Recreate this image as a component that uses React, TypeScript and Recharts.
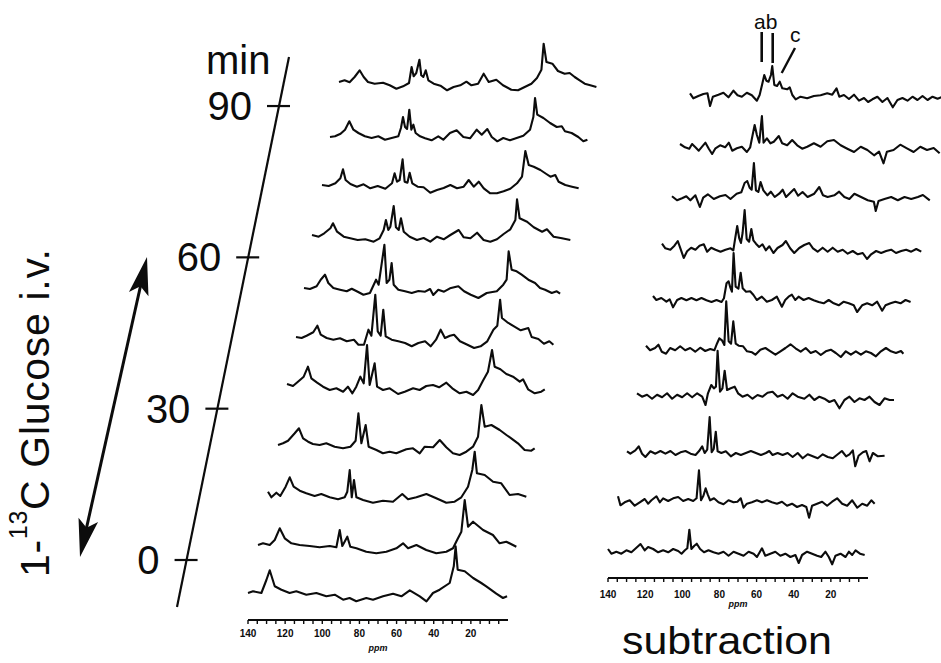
import React from "react";
import { LineChart, Line, XAxis, YAxis } from "recharts";

type Pt = [number, number];

const FONT = '"Liberation Sans", Arial, Helvetica, sans-serif';
const INK = "#0c0c0c";

// 13C spectra, [ppm, intensity]; bottom trace first
const L0: Pt[] = [[140,0],[137.3,1.7],[132.8,0],[130.1,13],[128.3,22.7],[125.6,6.7],[122,3.3],[117.6,0],[114,1.7],[108.6,-1.7],[103.2,0],[97.8,-3.3],[93.3,-1.7],[88.8,-6.7],[85.3,-5],[81.7,-8.3],[76.3,-5],[72.7,-6.7],[67.3,-3.3],[61.9,-0.7],[57.4,-3.3],[52.9,2.7],[47.5,-3.3],[43.9,-8.3],[40.4,0],[36.8,3.3],[31.4,10],[29.2,26.7],[28.2,46.7],[27.1,23.3],[23.3,21.7],[18.8,15],[14.4,10],[11.7,6.7],[6.3,-0.7],[2.7,-5],[0.5,-3.3]];
const L1: Pt[] = [[140,0],[137.3,1.7],[133.7,0],[131,5],[128.3,16.7],[125.6,6.7],[122,1.7],[117.6,0],[112.2,-1],[106.8,-2.3],[101.4,-1],[97.8,-2.3],[96,15],[94.6,-1],[91.9,8.3],[90.3,-1.7],[87,-3.3],[81.7,-6.7],[76.3,-8.3],[70.9,-6.7],[65.5,-3.3],[61.9,1.7],[59.2,-3.3],[54.7,0],[49.4,-5],[44,-8.3],[38.6,-6.7],[35,-3.3],[32.8,5],[30.5,13.3],[28.7,45],[26.9,18.3],[24.2,23.3],[18.8,15],[13.5,10],[9.9,1.7],[6.3,3.3],[0.9,-1.7]];
const L2: Pt[] = [[140,4.3],[138.2,-1.3],[135.5,3.3],[133.4,0],[130.5,9.3],[128.3,18.7],[126.2,9.3],[122.9,5.3],[119.4,2.7],[114.9,0],[111.3,2],[106.8,-1.3],[102.3,-3.3],[98.7,-1.3],[97.3,4.3],[96,26],[94.9,-1.3],[93.7,16],[92.4,-1.3],[88.8,-4],[83.5,-6.7],[78.1,-4.7],[72.7,-5.7],[67.7,2],[64.6,-3.3],[60.1,-1.3],[54.7,2],[49.4,-2.3],[44,-6.7],[39.5,-5.7],[35.9,-1.3],[32.3,9.3],[30,26],[28.7,44.3],[27.5,22.7],[23.3,21],[18.8,14.3],[14.4,12.7],[9.9,1],[5.4,2],[0.9,-0.7]];
const L3: Pt[] = [[140,0],[137.3,1.7],[134.6,4.3],[131,11.7],[128.7,16.7],[126.5,6.7],[123.8,3.3],[121.2,1],[117.6,0],[114,1.7],[109.5,-1.7],[105,-3.3],[101,-1.7],[98.2,4.3],[96.7,31.7],[95.1,1.7],[92.8,20],[91.2,-1.7],[87,-5],[83.5,-8.3],[79.9,-6.7],[76.3,-8.3],[70.9,-4.3],[67.3,-3.3],[63.7,-8.3],[61,-1.7],[56.5,-2.3],[52.9,5],[49.4,-2.3],[45.8,-8.3],[42.2,-10],[38.6,-6.7],[35,-1.7],[32.3,8.3],[30.5,40],[28.7,18.3],[25.1,20],[20.6,15],[17,10],[14.4,6.7],[10.8,1.7],[7.2,-5],[3.6,-5.7],[1.8,-3.3]];
const L4: Pt[] = [[140,1],[136.8,-1],[134.1,3.3],[131,8.3],[128.7,18.3],[126.9,6.7],[123.8,2.3],[120.6,-1.7],[117,-5],[113.4,-3.3],[109.8,-6.7],[107.2,-1.7],[104.8,-8.3],[102.7,-1.7],[100.5,8.3],[98.7,1.7],[96.9,40],[95.5,0],[92.8,21.7],[91.5,-1.7],[88.3,-5],[84.7,-3.3],[80.2,-9],[76.6,-6.7],[72.1,-3.3],[68.6,-5],[65,-1],[61.4,0],[58.1,-2.3],[54.2,2.3],[51,-3.3],[47,-8.3],[43.4,-6.7],[39.8,-10],[37.1,-5],[34.5,4.3],[31.8,13.3],[29.6,35],[28.2,18.3],[25.1,15.7],[21.9,11],[18.3,8.3],[14.7,3.3],[12.9,5.7],[10.2,-4.3],[6.6,-8.3],[3.1,-6.7],[1.2,-4.3]];
const L5: Pt[] = [[140,0],[137,-1],[134.3,1.3],[130.7,4.7],[128.5,11.3],[126.7,2.3],[123.5,-1],[119.9,-2.7],[116.3,-1.3],[112.7,-4.3],[108.8,-2.7],[106.4,-7.7],[103.4,-7.7],[101,7.3],[99.4,1.3],[97.3,42.3],[96,5.7],[94.4,1.3],[93,27.3],[91.7,0.7],[88.5,-2.7],[84.9,-4.3],[81.3,-6],[77.7,-9.3],[74.1,-6],[70.5,-4.3],[67.5,-9.3],[64.6,-2.7],[62.1,7.3],[59.8,-1],[57.1,1.3],[54.9,2.3],[51.7,-4.3],[47.7,-7.7],[44.1,-11],[40.6,-9.3],[37,-4.3],[33.7,7.3],[31.6,11.3],[30.1,37.3],[29.1,19],[26.2,14.7],[22.6,10.7],[19,6.7],[14.9,9],[13.1,0],[9.5,-2],[6.5,-6.7],[3.6,-4.3],[1.4,-7.7]];
const L6: Pt[] = [[140,1],[136.8,0],[133.2,2.7],[131,9.3],[128.7,14.3],[126.9,6],[124.2,1],[120.6,-0.7],[117,-2.3],[114.3,0.3],[111.6,-2.3],[108,-5.7],[104.5,-4],[101.2,9.3],[99.8,4.3],[96.7,44.3],[95.5,6],[94,9.3],[92.8,26],[91.7,4.3],[89.2,-0.7],[85.6,-2.3],[82,-4],[78.4,-2],[74.8,-2.7],[72.1,0],[70.4,-6],[67.7,-0.7],[64.6,-2.7],[61.4,0.7],[56.9,2.7],[53.8,-2.3],[50.2,-5.7],[46.1,-9],[41.6,-4],[36.2,-2.3],[32.7,4.3],[30.9,9.3],[29.8,37.7],[28.2,19.3],[25.5,17.7],[22.8,14.3],[19.2,9.3],[15.6,6],[12.9,1],[10.2,-0.7],[6.6,-4],[3.9,-2.3],[2.1,-4.7]];
const L7: Pt[] = [[140,0],[136.4,-1.7],[133.4,1.7],[130.1,6.7],[128.7,11.7],[126.5,3.3],[122.9,-1.7],[119.4,-3.3],[115.4,-5],[111.3,-4.3],[106.8,-6.7],[103.6,-3.3],[101.4,5],[100.2,15],[98.9,5],[97.8,8.3],[96,29],[94.8,7.7],[93.3,5],[92.1,16.7],[90.6,3.3],[87.4,-1.7],[83.5,-5],[79.9,-3],[76.3,-6.7],[72.7,-1.7],[69.1,-4.3],[65.5,0],[61,5],[58.3,-2.3],[54.7,-3.3],[51.1,2.3],[47.6,-5],[44,-6.7],[40.4,-4.3],[36.8,1],[33.2,5.7],[30.5,15],[29.6,35.7],[28.2,16.7],[24.2,13.3],[20.6,7.7],[16.1,3.3],[13.5,5.7],[9.9,-1.7],[5.4,-3.3],[0.9,-5]];
const L8: Pt[] = [[140,0],[136.4,-1],[132.8,1.7],[130.1,6.7],[128.7,15.7],[127.3,5],[124.7,1],[121.2,-1.7],[117.6,0.7],[114,-3.3],[110,-1],[105.9,-3.7],[102.3,1.7],[100.9,11.7],[99.6,3.3],[98.2,5],[96.6,25.7],[95.5,3.3],[94,2.3],[92.8,12.3],[91.4,1.7],[88.5,-1.7],[85.3,-2.3],[81.7,-7.7],[78.1,-5],[74.5,-3],[70.9,0],[67.3,-3.3],[63.7,-1.7],[61,5],[58.3,-1.7],[55.6,3.3],[52.9,-3.3],[49.4,-8.3],[45.8,-8.3],[42.2,-6.3],[38.6,-3.7],[35,1.7],[32.3,8.3],[30.5,34],[28.7,20],[26,18.3],[22.4,15],[19.2,11],[17,8.3],[14.4,10],[12.6,3.3],[9,0],[5.4,-1.7],[1.8,-3.3]];
const L9: Pt[] = [[140,0],[137.3,0.7],[134.3,3.3],[131.9,7.3],[129.6,15.7],[127.4,7.3],[124.7,4],[121.2,0.7],[117.6,-1],[114,0.7],[110.4,-2.7],[106.8,-1],[103.2,0.7],[101.8,9],[100.7,20],[99.6,10],[98.5,8],[97.3,27.3],[96.2,7.3],[95.1,12.3],[93.9,4],[91.5,0.7],[88.8,-1.3],[85.3,-3.3],[81.7,0.7],[79,-2.7],[75.4,4],[71.8,6.7],[68.2,0],[64.6,-1.3],[61,7.3],[58.3,2.3],[55.3,8],[52.9,0],[49.9,-4.3],[46.7,-1],[43.1,-3.3],[39.5,-1],[35.9,1.3],[32.3,7.3],[30.5,20],[29.6,39],[28.4,22.3],[25.1,19],[21.5,14],[17.9,10],[15.2,10.7],[13.5,5.7],[9.9,4],[6.3,0],[3.6,-4.3],[1.4,-2.7]];
const L10: Pt[] = [[140,0],[137,1.7],[134.3,-0.3],[131.6,5],[128.9,11.7],[126.7,5],[124.4,0],[120.8,-1.7],[116.3,-0.7],[112.7,-3.3],[109.1,-6.7],[105.5,-4.3],[102.3,-1],[100.9,15],[99.8,5.7],[98.4,9],[96.7,22.3],[95.7,6.7],[94.6,5],[93.3,11.7],[91.9,1.7],[89,-1.7],[85.4,-3.7],[81.8,-8.3],[78.3,-5],[74.7,-3.3],[71.4,0.3],[68.7,-3.3],[65.1,-1.7],[62.1,8.3],[59.4,0],[55.3,2.3],[51.7,-3.3],[47.2,-7.7],[43.6,-8.3],[40,-5],[36.4,-1.7],[33.4,4],[31,12.3],[29.8,38.3],[28.3,20],[25.1,18.3],[22.1,11],[18.5,8.3],[15.8,9],[13.1,5],[10.4,1.7],[7.7,-1.7],[4.7,-3.3],[1.4,-5]];

// subtraction spectra, bottom first
const S0: Pt[] = [[140,3],[138.2,-1.7],[135.5,0.3],[132.8,-1.7],[130.1,1.7],[127.4,-0.3],[125,3.7],[122.5,8],[120.2,1.7],[118.4,5],[115.7,3],[113,-0.3],[110.3,1.7],[107.6,-0.3],[104.9,3],[102.2,1],[100.4,-1.7],[98.6,1.7],[97.3,3.7],[96.2,22.3],[95.1,3],[93.5,6.3],[92.2,8.3],[90.4,3],[88.3,-0.3],[85.9,1.7],[83.2,-0.3],[80.5,-1.7],[77.8,0.3],[75.1,-3.7],[72.4,0.3],[69.7,-1.7],[67,-3.7],[64.3,0.3],[61.6,-1.7],[59.8,-5],[57.1,3.7],[55.3,-3.7],[52.6,-1.7],[49.9,0.3],[47.2,-3.7],[44.5,-1.7],[41.8,-5],[39.1,-3],[37.3,-11],[35.5,-3],[32.8,0.3],[30.1,-1.7],[27.4,-3.7],[25.2,-5],[22.9,0.3],[21.1,-5],[19.3,-12.3],[17.5,-3.7],[14.8,-1.7],[12.1,-5],[10.3,0.3],[8.5,-3],[6.7,1.7],[4.3,-1.7],[1.8,-3]];
const S1: Pt[] = [[140,5.7],[138.7,-3.3],[136.4,-0.3],[133.7,1.7],[131,-3.7],[128.3,-0.3],[125.6,3],[123.8,-1.7],[122,1.7],[119.3,5.7],[117.5,-0.3],[115.7,3.7],[113,1],[110.3,3.7],[107.6,5],[104.9,1],[102.2,3],[99.5,1],[97.7,3.7],[96.4,31.7],[95.3,1.7],[94,6.3],[92.8,13.7],[91.7,7.7],[90.4,1.7],[88.3,3.7],[85.9,-0.3],[83.2,-2.3],[80.5,1.7],[77.8,-0.3],[75.7,0.3],[73.9,3.7],[72.4,-5.7],[70.6,-1.7],[67.9,-0.3],[65.2,1.7],[62.5,-0.3],[59.8,1.7],[57.1,-0.3],[54.4,-1.7],[51.7,0.3],[49,-3.7],[46.3,-1.7],[43.6,-5],[40.9,-3],[38.6,-5],[37.1,-15.7],[35.5,-3.7],[32.8,-1.7],[30.1,0.3],[27.4,-3.7],[24.7,0.3],[22,3.7],[19.3,-1.7],[16.6,-3.7],[13.9,1.7],[11.2,-5.7],[8.5,-1.7],[5.8,-3.7],[3.6,1.7],[1.8,-1.7]];
const S2: Pt[] = [[140,1.7],[138.2,-0.7],[135.5,2.7],[133.7,6.7],[131.9,-0.7],[130.1,-4],[127.4,1.7],[124.7,-0.7],[122,2],[119.3,-0.7],[116.6,2],[113.9,-2],[111.2,0.7],[108.5,2],[105.8,-0.7],[103.1,-2],[101.3,1.7],[99.5,6.7],[98.2,0],[96.8,3.3],[95.5,36],[94.4,0.7],[93.3,4],[92.2,21.3],[91.2,1.7],[89.2,0],[86.8,1.7],[84.1,-3.3],[81.4,0],[78.7,-2],[76,0],[73.3,2],[70.6,0],[67.9,-2],[65.2,0],[63.4,2],[61.6,-2],[58.9,0],[56.2,-2],[53.5,0],[50.8,-4],[48.1,0],[45.4,-5.3],[42.7,-1.3],[40,-3.3],[37.3,-5.3],[34.6,-1.3],[31.9,-4],[29.2,-5.3],[26.5,-1.3],[24.3,2],[22,-3.3],[20.2,-1.3],[18.4,2.7],[17.1,-13.3],[15.3,-2.7],[13,0.7],[11.2,2],[9.4,-8.3],[7.6,0],[4.9,-3.3],[1.3,-2.7]];
const S3: Pt[] = [[140,2.7],[137.3,-0.7],[134.6,1.3],[131.9,-2.7],[129.2,1.3],[126.5,-1.3],[123.8,2.7],[121.1,-2.7],[118.4,1.3],[115.7,-1.3],[113,2.7],[110.3,-1.3],[107.6,2.7],[104.9,-0.7],[103.1,-9],[101.8,2.7],[100,11],[98.6,7.7],[97.5,9.3],[96.6,45.3],[95.3,4.3],[94,7.7],[92.8,25.3],[91.5,6],[89.5,7.7],[87.4,9.3],[85.6,2.7],[83.2,-0.7],[80.5,1.3],[77.8,-2.7],[75.1,1],[72.4,-0.7],[69.7,3.3],[67,4.3],[64.3,-0.7],[61.6,1.3],[58.9,-2.7],[56.2,2.7],[53.5,-0.7],[49.9,-2.7],[47.2,1.3],[44.5,-4],[41.8,-0.7],[39.1,-2.7],[36.4,-6],[33.7,-4],[31,-12.3],[28.3,-4],[25.6,-0.7],[22.9,-6],[20.2,-2.3],[17.5,-4],[14.8,-0.7],[12.1,-6],[9.4,-9],[6.7,-2.3],[4,-4],[1.6,-4]];
const S4: Pt[] = [[140,3.3],[137.8,-1.3],[135.1,1],[133.3,4.3],[131.5,-2.7],[129.2,-4.7],[127,1],[124.3,-1.3],[121.6,2.7],[118.9,-1.3],[116.2,1],[113.5,-2.7],[110.8,1.3],[108.1,-2],[105.4,0],[103.2,-1.3],[101.8,5.3],[100.5,10.7],[99.1,8.7],[97.8,4],[96.8,47.7],[95.5,7.7],[94.2,5.3],[93,27.7],[91.7,5.3],[90.1,3.3],[87.7,2.7],[85.6,-2.3],[82.9,-3.3],[81.1,-5.7],[78.4,-0.7],[75.7,1],[73,-2.3],[70.3,-5.7],[67.6,-2.3],[64.9,1],[62.2,4.7],[59.5,0.7],[56.7,-2.7],[54,1],[51.3,-4],[48.6,-2],[45.9,-6],[43.2,-2.3],[40.5,-0.7],[37.8,-4],[35.1,-8],[32.4,-2.3],[29.7,-5.7],[27,-2.3],[24.3,-5.7],[21.6,-2.3],[18.9,-4],[16.2,-7.3],[13.5,-2.3],[10.8,1],[8.1,-2.3],[5.4,-4],[2.7,-2],[1.4,-4.7]];
const S5: Pt[] = [[140,4],[138.2,0],[135.5,2],[132.8,-1.7],[131,0.7],[129.2,-7.3],[127,0],[124.7,2],[122,-0.3],[119.3,2],[116.6,-0.3],[113.9,2],[111.2,-0.3],[108.5,-2],[105.8,0],[103.1,-2],[101.8,1.7],[100.4,16.7],[99.3,18.7],[98.4,12.7],[97.5,8.3],[96.6,47],[95.5,13.3],[94,11.3],[92.8,27.3],[91.7,11.7],[89.9,8.3],[87.7,8.7],[85.9,5],[84.1,0],[81.4,3.3],[78.7,-1.7],[76,0],[73.3,3.3],[70.6,-6.7],[68.8,0],[67,3.3],[65.2,5.3],[63.4,0],[61.6,3.3],[58.9,0],[56.2,2],[53.5,-0.3],[50.8,-2],[48.1,-3.3],[45.4,0],[42.7,-3.3],[40,-5.3],[37.3,-1.7],[34.6,-3.3],[31.9,-5.3],[30.1,-12],[27.4,-5.3],[24.7,-3.3],[22,-5.3],[19.3,-1.7],[16.6,-10.7],[14.8,-5.3],[12.1,-3.3],[9.5,-1.7],[6.7,-3.3],[4,0],[1.3,-2]];
const S6: Pt[] = [[140,4.3],[138.2,-0.3],[135.5,-1.7],[133.3,2.3],[131.5,7],[130.1,-0.3],[128.3,-10],[126.5,-3.3],[124.3,0.3],[122,-1.7],[119.8,2.3],[117.5,3.7],[115.7,-3.7],[113.5,0.3],[111.2,-1.7],[108.5,-3.7],[105.8,-1.7],[103.1,-0.3],[101.6,-2.3],[100.7,8.3],[99.5,22],[98.4,9.7],[97.5,5],[96.6,15],[95.5,38],[94.4,9],[93.1,6.3],[91.9,19],[90.8,7.7],[89.4,4.3],[87.7,1],[85.9,3.7],[84.1,-2.3],[82.2,1.7],[80,-5],[77.8,0],[75.1,3],[73.3,7],[71,-0.3],[68.8,-5],[66.1,0],[63.4,3],[60.7,5],[58.7,-0.3],[56.2,-3.7],[53.5,0.3],[50.8,-3.7],[48.1,0.3],[45.4,-3.7],[42.7,-1.7],[40,-5.7],[37.3,-3],[34.6,-6.3],[31.9,-5],[29.6,-11],[27.4,-6.3],[24.7,-3],[22,-5],[19.3,-3],[16.6,-1.7],[14,-5],[11.2,-3],[8.5,-1.7],[5.8,-3.7],[3.1,-1],[0.4,-3.7]];
const S7: Pt[] = [[140,0.7],[137.3,-3.3],[134.6,-1.3],[132.3,0.7],[130.1,-3.3],[127.4,1.7],[125,-10],[123.2,-0.7],[120.7,2.7],[117.5,-2],[114.2,0.7],[111.2,2],[108.5,-2],[105.2,3.3],[102.7,4.7],[100.9,14],[99.5,16],[98.2,9.3],[97.1,7.3],[95.9,34],[94.8,6.7],[93.5,5],[92.3,15],[90.8,6.7],[88.6,1.7],[86.8,5.3],[84.7,0],[82.3,3.3],[80.4,7.3],[78.6,0],[76,4.7],[74.2,8],[72.1,1.3],[69.7,5],[67,0],[63.4,3.3],[60.7,10],[58.7,1.7],[56.2,0],[52.6,1.7],[50,5.3],[47.2,0],[44.5,-2],[41.8,3.3],[38.2,0],[34.6,-3.3],[31.3,-4.7],[30.3,-14],[28.8,-4],[25.6,-2],[22,0],[18.4,-3.3],[14.8,0],[11.2,-2],[7.6,0],[4.9,2],[1.2,-3.3]];
const S8: Pt[] = [[140,1],[137.3,-2.3],[135,-3.7],[133.5,1],[131.7,-2.3],[129.9,-5.7],[128.1,-1.7],[126.3,2.3],[124.5,-3.7],[122.7,-9],[120.9,-3.3],[118.4,-0.3],[115.7,-2.3],[113.7,2.3],[111.9,-5.7],[109.4,-3.3],[106.7,-1.7],[104,-7],[102.2,-2.3],[100.9,10],[99.8,20],[98.6,10],[97.3,2.3],[95.9,29],[95,2.3],[93.2,6.7],[91.3,1.7],[89.5,3.3],[86.8,9],[85,1.7],[82.3,-0.3],[79.6,5],[76.9,-0.3],[74.2,-3.7],[71.5,-1.7],[67.9,1.7],[64.3,-1.7],[60.7,3.7],[57.1,5],[53.5,-0.3],[49.9,-3.7],[46.3,-7],[42.7,-1.7],[39.1,-5],[35.5,-10.3],[32.8,-6.7],[30.4,-18.3],[28.6,-6.7],[25,-5],[21.4,0.3],[17.8,-3.3],[14.2,-7],[10.6,-1.7],[7,-5],[3.4,-3],[0.2,-8.3]];
const S9: Pt[] = [[140,1.7],[138.2,-3.3],[135.5,-1],[132.8,1],[130.6,1.7],[129.2,-11],[127.7,-1.7],[124.7,0.3],[122,2.3],[119.3,-2.3],[116.6,4.3],[114.4,-0.3],[112.1,-1.7],[109.4,2.3],[106.7,-0.3],[104,-5.7],[102.5,0],[101.1,11],[100,20],[98.9,14.3],[97.7,13.3],[96.4,20],[95.7,29],[94.6,10],[93.1,9],[91.7,13.3],[90.3,6.7],[87.7,5.7],[86.3,7.7],[84.9,0],[83.1,-4.3],[80.5,-1.7],[76.9,-3.3],[73.3,-1],[69.7,-0.3],[66.1,1.7],[63.4,0.3],[61.1,6.7],[59.6,-1.7],[57.1,0],[54.4,-4],[51.7,0.3],[49,-5.7],[46.3,-3],[44.1,-7],[41.8,-4.3],[39.1,-1.7],[36.4,-7],[33.7,-3],[30.8,-12.3],[28.3,-5],[25.6,-3],[22.9,-5.7],[20.2,-1.7],[17.5,-5],[14.8,-1],[12.1,-5],[9.4,-1.7],[6.7,-3.7],[4,-1.7],[1.3,-3.7]];

const leftStack = [L0, L1, L2, L3, L4, L5, L6, L7, L8, L9, L10];
const subStack = [S0, S1, S2, S3, S4, S5, S6, S7, S8, S9];

const ppmTicks = [140, 135, 130, 125, 120, 115, 110, 105, 100, 95, 90, 85, 80, 75, 70, 65, 60, 55, 50, 45, 40, 35, 30, 25, 20, 15, 10, 5];
const timeTicks = [0, 30, 60, 90];

// layout: where each trace's 140 ppm end and zero line sit on the page
const leftOrigins: Pt[] = [[248.3, 593.3], [258.3, 545], [268.3, 496], [278.3, 445], [287.3, 385], [296, 337.3], [304, 289.3], [311.7, 235], [321.7, 185], [330, 137.3], [339.3, 81.7]];
const subOrigins: Pt[] = [[608.3, 551.7], [618.3, 501.7], [626.7, 453.3], [636.7, 396], [646, 349.3], [653.3, 300], [661.7, 248.3], [671.7, 196.7], [680, 145], [690, 95]];

const PLOT_W = 260;
const TOP = 60;
const AXIS_H = 34;
const M = { top: 6, right: 12, bottom: 0, left: 12 };

const PpmTick = (props: any) => {
  const { x, y, payload, labelDy } = props;
  if (payload.value % 20 !== 0) return <g />;
  return (
    <text x={x} y={y} dy={labelDy} textAnchor="middle" fontSize={10} fontWeight={700} fontFamily={FONT} fill={INK}>
      {payload.value}
    </text>
  );
};

type AxisOpts = { lo: number; labelDy: number; ppmOffset: number };

function Spectrum({ data, origin, axis }: { data: Pt[]; origin: Pt; axis?: AxisOpts }) {
  const rows = data.map(([ppm, v]) => ({ ppm, v }));
  const lo = axis ? axis.lo : -20;
  const height = M.top + (TOP - lo) + (axis ? AXIS_H : 0);
  return (
    <div style={{ position: "absolute", left: origin[0] - M.left, top: origin[1] - TOP - M.top }}>
      <LineChart width={PLOT_W + M.left + M.right} height={height} data={rows} margin={M}>
        <XAxis
          type="number"
          dataKey="ppm"
          domain={[0, 140]}
          reversed
          hide={!axis}
          ticks={ppmTicks}
          interval={0}
          height={AXIS_H}
          tickSize={4}
          axisLine={{ stroke: INK, strokeWidth: 1.8 }}
          tickLine={{ stroke: INK, strokeWidth: 1.4 }}
          tick={<PpmTick labelDy={axis ? axis.labelDy : 0} />}
          label={
            axis
              ? { value: "ppm", position: "insideBottom", offset: axis.ppmOffset, fill: INK, fontSize: 9, fontStyle: "italic", fontWeight: 700, fontFamily: FONT }
              : undefined
          }
        />
        <YAxis type="number" domain={[lo, TOP]} hide allowDataOverflow />
        <Line type="linear" dataKey="v" stroke={INK} strokeWidth={2.1} strokeLinejoin="round" dot={false} isAnimationActive={false} />
      </LineChart>
    </div>
  );
}

function Decorations() {
  const a0 = { x: 177, y: 607 };
  const a1 = { x: 289, y: 57 };
  const yAt = (t: number) => 560 - t * 5.044;
  const xAt = (y: number) => a0.x + ((a0.y - y) * (a1.x - a0.x)) / (a0.y - a1.y);

  // double arrow
  const tipTop = { x: 147, y: 257 };
  const tipBot = { x: 80, y: 557 };
  const dx = tipTop.x - tipBot.x;
  const dy = tipTop.y - tipBot.y;
  const len = Math.hypot(dx, dy);
  const u = { x: dx / len, y: dy / len };
  const n = { x: -u.y, y: u.x };
  const head = (tip: { x: number; y: number }, s: number) => {
    const bx = tip.x - s * 38 * u.x;
    const by = tip.y - s * 38 * u.y;
    const nx = tip.x - s * 30 * u.x;
    const ny = tip.y - s * 30 * u.y;
    return `${tip.x},${tip.y} ${bx + 10 * n.x},${by + 10 * n.y} ${nx},${ny} ${bx - 10 * n.x},${by - 10 * n.y}`;
  };

  return (
    <svg width={941} height={663} style={{ position: "absolute", left: 0, top: 0 }}>
      <line x1={a0.x} y1={a0.y} x2={a1.x} y2={a1.y} stroke={INK} strokeWidth={2.2} />
      {timeTicks.map((t) => {
        const y = yAt(t);
        const x = xAt(y);
        return (
          <g key={t}>
            <line x1={x - 12} y1={y} x2={x + 11} y2={y} stroke={INK} strokeWidth={2.2} />
            <text x={x - 27} y={y + 14} textAnchor="end" fontSize={40} fontFamily={FONT} fill={INK}>
              {t}
            </text>
          </g>
        );
      })}
      <text x={206} y={74} fontSize={40} fontFamily={FONT} fill={INK}>
        min
      </text>

      <line x1={tipBot.x + 20 * u.x} y1={tipBot.y + 20 * u.y} x2={tipTop.x - 20 * u.x} y2={tipTop.y - 20 * u.y} stroke={INK} strokeWidth={3} />
      <polygon points={head(tipTop, 1)} fill={INK} />
      <polygon points={head(tipBot, -1)} fill={INK} />

      <text transform="translate(49,577) rotate(-90)" fontSize={41} fontFamily={FONT} fill={INK} textLength={328} lengthAdjust="spacing">
        1-<tspan dy={-22} fontSize={25}>13</tspan>
        <tspan dy={22}>C Glucose i.v.</tspan>
      </text>

      <text x={754} y={29} fontSize={21} fontFamily={FONT} fill={INK}>
        ab
      </text>
      <text x={790} y={42} fontSize={21} fontFamily={FONT} fill={INK}>
        c
      </text>
      <line x1={761.7} y1={32} x2={761.7} y2={62} stroke={INK} strokeWidth={2.6} />
      <line x1={772.7} y1={33} x2={772.7} y2={63} stroke={INK} strokeWidth={2.6} />
      <line x1={795} y1={48} x2={781.7} y2={73} stroke={INK} strokeWidth={2.4} />

      <text x={622} y={654} fontSize={38} fontFamily={FONT} fill={INK} textLength={210} lengthAdjust="spacingAndGlyphs">
        subtraction
      </text>
    </svg>
  );
}

export default function App() {
  return (
    <div style={{ position: "fixed", left: 0, top: 0, width: 941, height: 663, overflow: "hidden", background: "#fff" }}>
      <Decorations />
      {leftStack.map((d, i) => (
        <Spectrum key={`l${i}`} data={d} origin={leftOrigins[i]} axis={i === 0 ? { lo: -27, labelDy: 11, ppmOffset: 3 } : undefined} />
      ))}
      {subStack.map((d, i) => (
        <Spectrum key={`s${i}`} data={d} origin={subOrigins[i]} axis={i === 0 ? { lo: -26, labelDy: 14, ppmOffset: 5 } : undefined} />
      ))}
    </div>
  );
}
